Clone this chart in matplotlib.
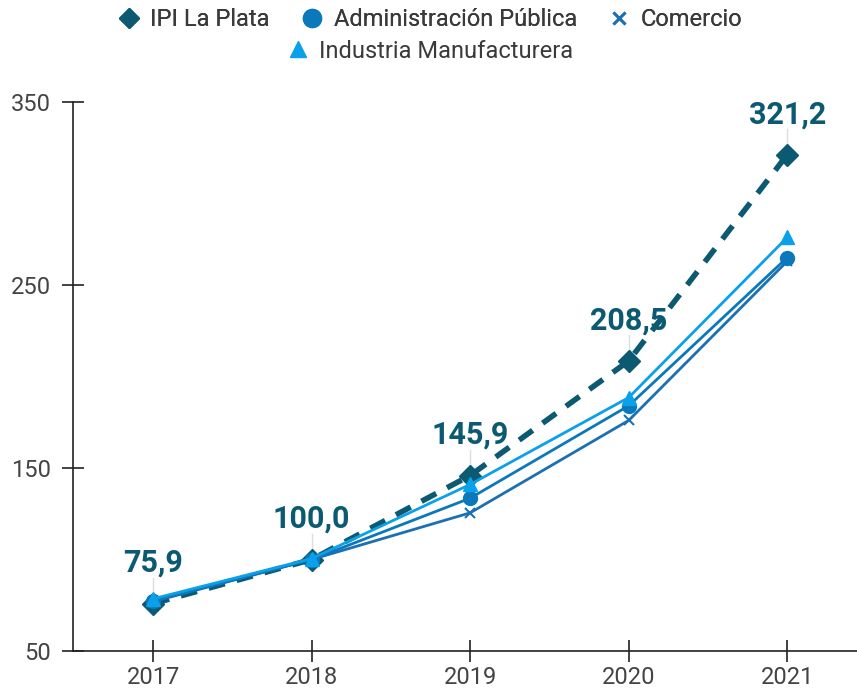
import matplotlib.pyplot as plt
from matplotlib.lines import Line2D

plt.rcParams['font.family'] = ['Roboto', 'DejaVu Sans']

years = [2017, 2018, 2019, 2020, 2021]
ipi = [75.9, 100.0, 145.9, 208.5, 321.2]
admin = [77.5, 100.0, 133.5, 184.0, 265.0]
comercio = [77.0, 100.0, 125.5, 176.0, 263.0]
industria = [78.5, 100.5, 141.0, 188.5, 276.0]
ipi_labels = ['75,9', '100,0', '145,9', '208,5', '321,2']

c_ipi = '#0b5a72'
c_admin = '#0a78bb'
c_com = '#1b6fb3'
c_ind = '#0aa0ea'

fig = plt.figure(figsize=(8.57, 6.95), dpi=100)
ax = fig.add_axes([73 / 857, 1 - 651 / 695, (857 - 73) / 857, (651 - 102) / 695])

ax.plot(years, comercio, color=c_com, lw=2, marker='x', ms=7, mew=1.5, zorder=3)
ax.plot(years, admin, color=c_admin, lw=2, marker='o', ms=10, zorder=4)
ax.plot(years, industria, color=c_ind, lw=2, marker='^', ms=10, zorder=5)
ax.plot(years, ipi, color=c_ipi, lw=4, ls=(0, (3, 2.2)), marker='D', ms=11, zorder=2)

# etiquetas IPI
for x, y, t in zip(years, ipi, ipi_labels):
    ax.plot([x, x], [y + 6, y + 14], color='#dddddd', lw=1, zorder=1)
    ax.text(x, y + 14, t, ha='center', va='bottom', fontsize=22,
            fontweight='bold', color=c_ipi)

ax.set_xlim(2016.495, 2021.44)
ax.set_ylim(50, 350)
ax.set_xticks(years)
ax.set_yticks([50, 150, 250, 350])
ax.spines['top'].set_visible(False)
ax.spines['right'].set_visible(False)
for s in ['left', 'bottom']:
    ax.spines[s].set_color('#222222')
    ax.spines[s].set_linewidth(1.2)
ax.tick_params(direction='inout', length=16, width=1.2, color='#222222',
               labelsize=17, labelcolor='#444444', pad=3)
ax.tick_params(axis='y', pad=8)

h1 = [Line2D([], [], color=c_ipi, marker='D', ls='none', ms=10),
      Line2D([], [], color=c_admin, marker='o', ls='none', ms=13),
      Line2D([], [], color=c_com, marker='x', ls='none', ms=8, mew=2)]
l1 = ['IPI La Plata', 'Administración Pública', 'Comercio']
leg1 = fig.legend(h1, l1, loc='center', bbox_to_anchor=(0.5, 1 - 20 / 695), ncol=3,
                  frameon=False, fontsize=17, handletextpad=0.3, columnspacing=1.2,
                  handlelength=1.2, labelcolor='#3a3a3a')
h2 = [Line2D([], [], color=c_ind, marker='^', ls='none', ms=11)]
fig.legend(h2, ['Industria Manufacturera'], loc='center',
           bbox_to_anchor=(0.5, 1 - 51 / 695), frameon=False, fontsize=17,
           handletextpad=0.3, handlelength=1.2, labelcolor='#3a3a3a')
fig.add_artist(leg1)

fig.savefig('out.png', dpi=100)
